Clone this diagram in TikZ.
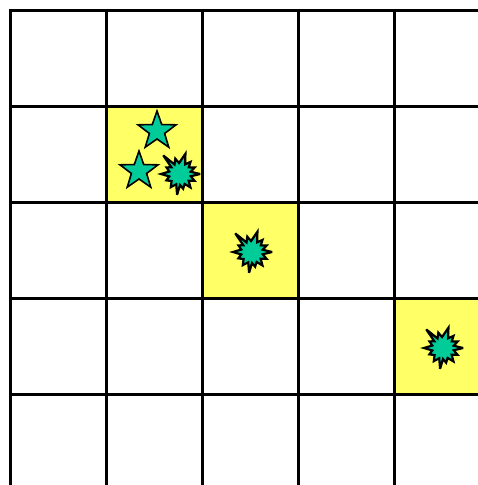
\documentclass[tikz,border=0pt]{standalone}
\usetikzlibrary{shapes.geometric}
\definecolor{cellyellow}{RGB}{255,255,102}
\definecolor{stargreen}{RGB}{0,204,153}
\tikzset{every picture/.style={line width=0.75pt}}
\tikzset{
  gridline/.style={line width=3pt},
  starmark/.style={star, star points=5, star point ratio=2.5, minimum size=40pt,
    inner sep=0pt, fill=stargreen, draw=black, line width=1.6pt},
  burstmark/.style={fill=stargreen, draw=black, line width=2.2pt, line join=miter, miter limit=4}
}
% burst centred at #1
\newcommand{\burstat}[1]{%
  \filldraw[burstmark,shift={#1}] (0:20)
    \foreach \a/\r in {12/11,25/16,38/11,52/17,65/11,78/15,
      90/11,98/21,110/11,125/16,140/11,155/15,167/11,
      180/19,193/11,206/15,218/11,
      228/25,240/11,253/16,265/11,
      285/21,298/11,311/16,323/11,336/16,348/11}
    { -- (\a:\r) } -- cycle;}

\begin{document}
\begin{tikzpicture}[x=1pt,y=-1pt]
    \useasboundingbox (0,0) rectangle (478,485);

    % highlighted cells
    \fill[cellyellow] (106,106) rectangle (202,202);
    \fill[cellyellow] (202,202) rectangle (298,298);
    \fill[cellyellow] (394,298) rectangle (478,394);

    % grid
    \foreach \k in {0,...,4} {
        \draw[gridline] (10+96*\k,8.5) -- (10+96*\k,485);
        \draw[gridline] (8.5,10+96*\k) -- (478,10+96*\k);
    }

    % stars
    \node[starmark] (starA) at (157,131) {};
    \node[starmark] (starB) at (139,171) {};

    % bursts
    \burstat{(180,174)}
    \burstat{(252,252)}
    \burstat{(443,348)}
\end{tikzpicture}
\end{document}
